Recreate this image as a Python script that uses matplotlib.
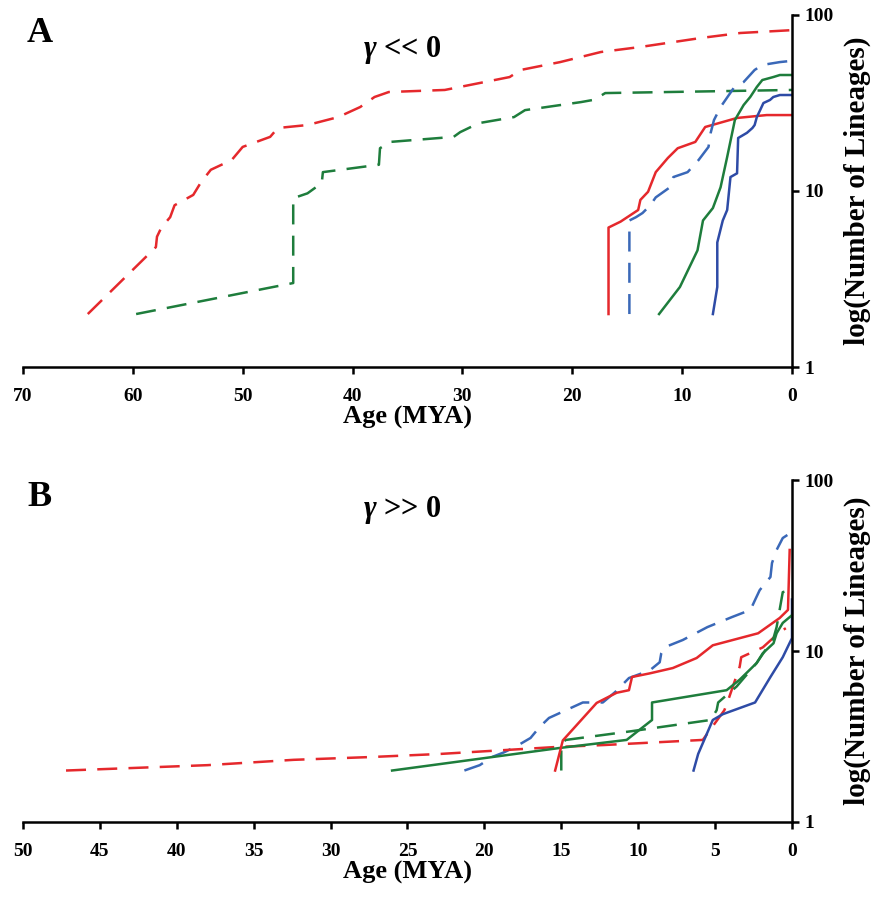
import matplotlib
matplotlib.use("Agg")
import matplotlib.pyplot as plt
from matplotlib.ticker import FixedLocator, NullLocator

plt.rcParams['font.family'] = ['Liberation Serif', 'DejaVu Serif']
plt.rcParams['font.weight'] = 'bold'
plt.rcParams['mathtext.fontset'] = 'custom'
plt.rcParams['mathtext.rm'] = 'Liberation Serif:bold'
plt.rcParams['mathtext.it'] = 'Liberation Serif:italic'

RED = '#e5282c'
GREEN = '#1e7d3c'
BLUE = '#2e4ba6'
BLUE_D = '#3a68b8'

# ---- panel A : gamma << 0 ----
a_red_d_age = [64.1, 57.9, 57.8, 57.4, 56.6, 56.2, 54.5, 53.8, 52.9, 51.0, 50.0, 47.5, 46.8, 44.1,
               41.3, 39.3, 38.0, 36.7, 31.6, 25.7, 24.7, 21.1, 17.4, 13.8, 8.3, 4.7, 0.0]
a_red_d_n = [2.0, 4.8, 5.5, 6.2, 7.1, 8.3, 9.5, 11.2, 13.2, 15.0, 17.8, 20.3, 22.8, 23.7,
             26.3, 30.0, 34.2, 36.5, 37.5, 44.4, 48.7, 54.0, 61.6, 65.8, 74.0, 79.0, 82.0]

a_green_d_age = [59.7, 45.4, 45.4, 44.1, 42.8, 42.7, 37.6, 37.5, 36.6, 30.8, 30.2, 28.5, 25.3,
                 24.3, 19.2, 18.0, 17.0, 0.0]
a_green_d_n = [2.0, 3.0, 9.1, 9.7, 11.1, 12.8, 14.1, 17.5, 19.0, 20.3, 21.6, 24.3, 26.3,
               28.8, 32.0, 33.0, 36.0, 37.5]

a_red_s_age = [16.7, 16.7, 15.6, 14.0, 13.8, 13.1, 12.4, 11.3, 10.4, 8.8, 7.9, 5.0, 2.3, 0.0]
a_red_s_n = [2.0, 6.2, 6.7, 7.8, 8.9, 9.9, 12.8, 15.4, 17.5, 19.0, 23.1, 26.0, 27.0, 27.0]

a_blue_d_age = [14.8, 14.8, 14.2, 13.6, 12.9, 12.4, 11.2, 10.8, 9.5, 8.5, 7.6, 7.4, 7.1, 6.5,
                5.3, 4.4, 3.4, 2.7, 1.1, 0.0]
a_blue_d_n = [2.0, 6.8, 7.1, 7.5, 8.3, 9.2, 10.4, 12.0, 12.8, 15.0, 17.8, 21.4, 25.3, 30.0,
              38.5, 41.6, 48.7, 52.0, 54.0, 54.9]

a_green_s_age = [12.1, 10.2, 8.6, 8.1, 7.2, 6.5, 5.9, 5.2, 4.4, 3.8, 3.2, 2.7, 1.7, 1.1, 0.0]
a_green_s_n = [2.0, 2.85, 4.6, 6.8, 8.0, 10.5, 15.6, 25.3, 30.8, 34.2, 39.0, 42.7, 44.4, 45.6, 45.6]

a_blue_s_age = [7.2, 6.8, 6.8, 6.3, 5.9, 5.6, 5.0, 4.9, 4.1, 3.6, 3.4, 3.2, 2.9, 2.6, 2.0, 1.7,
                1.1, 0.0]
a_blue_s_n = [2.0, 2.85, 5.1, 6.8, 7.8, 12.0, 12.6, 20.0, 21.4, 22.8, 23.7, 26.3, 28.8, 31.6,
              32.9, 34.2, 35.1, 35.1]

# ---- panel B : gamma >> 0 ----
b_red_d_age = [47.2, 38.0, 32.4, 27.3, 22.9, 15.5, 12.2, 5.8, 4.4, 4.2, 3.4, 3.3, 1.9, 0.8, 0.4]
b_red_d_n = [2.0, 2.15, 2.31, 2.4, 2.5, 2.74, 2.82, 3.02, 4.5, 5.0, 8.1, 9.2, 10.5, 12.9, 13.6]

b_red_s_age = [15.4, 14.9, 12.7, 11.4, 10.6, 10.4, 9.25, 7.75, 6.2, 5.15, 2.2, 0.8, 0.26, 0.15]
b_red_s_n = [2.0, 3.0, 4.97, 5.7, 5.9, 7.05, 7.4, 7.95, 9.1, 10.8, 12.7, 15.6, 17.4, 39.0]

b_green_d_age = [15.0, 15.0, 14.7, 10.4, 5.3, 4.9, 4.8, 3.6, 2.3, 1.2, 1.0, 0.6, 0.1]
b_green_d_n = [2.0, 2.9, 3.02, 3.4, 3.95, 4.5, 5.0, 6.2, 8.5, 11.9, 13.8, 22.1, 22.7]

b_green_s_age = [26.0, 15.1, 10.75, 9.1, 9.1, 4.25, 3.4, 2.3, 1.9, 1.2, 1.0, 0.6, 0.0]
b_green_s_n = [2.0, 2.71, 3.02, 3.95, 5.0, 5.9, 6.8, 8.5, 9.7, 11.1, 12.7, 14.6, 16.2]

b_blue_s_age = [6.4, 6.1, 5.15, 4.5, 2.4, 1.4, 0.6, 0.0, 0.0]
b_blue_s_n = [2.0, 2.5, 3.95, 4.27, 5.0, 7.05, 9.2, 11.9, 20.0]

b_blue_d_age = [21.3, 20.3, 19.5, 18.7, 17.9, 17.0, 16.4, 15.8, 13.6, 12.3, 11.5, 10.6, 9.25,
                8.6, 8.5, 8.3, 7.1, 5.5, 3.9, 2.7, 2.4, 2.1, 1.4, 1.3, 1.0, 0.6, 0.3]
b_blue_d_n = [2.0, 2.15, 2.4, 2.56, 2.78, 3.1, 3.6, 4.06, 5.0, 5.0, 5.75, 6.95, 7.7,
              8.6, 9.7, 10.5, 11.6, 13.8, 15.8, 17.4, 19.9, 22.7, 27.1, 32.7, 39.0, 45.8, 47.7]

a_xticks = [70, 60, 50, 40, 30, 20, 10, 0]
b_xticks = [50, 45, 40, 35, 30, 25, 20, 15, 10, 5, 0]
yticks = [1, 10, 100]

DASH = (0, (8, 4.5))
LW = 1.8

fig = plt.figure(figsize=(8.73, 9.02), dpi=100)
axA = fig.add_axes([0.0263, 0.5931, 0.8809, 0.3903])
axB = fig.add_axes([0.0263, 0.0887, 0.8809, 0.3791])


def style_axis(ax, xmax, xticks):
    ax.set_yscale('log')
    ax.set_ylim(1, 100)
    ax.set_xlim(xmax, 0)
    for s in ['top', 'left']:
        ax.spines[s].set_visible(False)
    for s in ['bottom', 'right']:
        ax.spines[s].set_linewidth(1.8)
    ax.yaxis.tick_right()
    ax.yaxis.set_label_position('right')
    ax.yaxis.set_major_locator(FixedLocator(yticks))
    ax.yaxis.set_minor_locator(NullLocator())
    ax.set_yticklabels([str(t) for t in yticks])
    ax.set_xticks(xticks)
    ax.tick_params(axis='x', direction='out', length=5, width=1.8, pad=10, labelsize=14)
    ax.tick_params(axis='y', direction='out', length=5, width=1.8, pad=4, labelsize=14)
    ax.set_xlabel('Age (MYA)', fontsize=19, fontweight='bold', labelpad=1)
    ax.set_ylabel('log(Number of Lineages)', fontsize=21, fontweight='bold', labelpad=7)


style_axis(axA, 70, a_xticks)
style_axis(axB, 50, b_xticks)

axA.plot(a_red_d_age, a_red_d_n, color=RED, lw=LW, ls=DASH)
axA.plot(a_green_d_age, a_green_d_n, color=GREEN, lw=LW, ls=DASH)
axA.plot(a_red_s_age, a_red_s_n, color=RED, lw=LW)
axA.plot(a_blue_d_age, a_blue_d_n, color=BLUE_D, lw=LW, ls=DASH)
axA.plot(a_green_s_age, a_green_s_n, color=GREEN, lw=LW)
axA.plot(a_blue_s_age, a_blue_s_n, color=BLUE, lw=LW)

axB.plot(b_blue_d_age, b_blue_d_n, color=BLUE_D, lw=LW, ls=DASH)
axB.plot(b_red_d_age, b_red_d_n, color=RED, lw=LW, ls=DASH)
axB.plot(b_green_d_age, b_green_d_n, color=GREEN, lw=LW, ls=DASH)
axB.plot(b_blue_s_age, b_blue_s_n, color=BLUE, lw=LW)
axB.plot(b_green_s_age, b_green_s_n, color=GREEN, lw=LW)
axB.plot(b_red_s_age, b_red_s_n, color=RED, lw=LW)

fig.text(0.031, 1 - 33 / 902, 'A', fontsize=26, fontweight='bold', va='center', ha='left')
fig.text(0.031, 1 - 497 / 902, 'B', fontsize=26, fontweight='bold', va='center', ha='left')
fig.text(402 / 873, 1 - 50 / 902, r'$\gamma$ << 0', fontsize=22, fontweight='bold',
         va='center', ha='center')
fig.text(402 / 873, 1 - 510 / 902, r'$\gamma$ >> 0', fontsize=22, fontweight='bold',
         va='center', ha='center')

fig.savefig('out.png', dpi=100)
